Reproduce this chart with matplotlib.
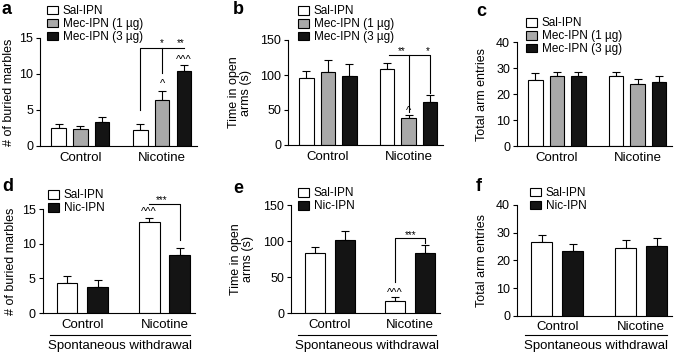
import matplotlib
matplotlib.use("Agg")
import matplotlib.pyplot as plt
import matplotlib.transforms as mtransforms
from matplotlib.patches import Patch
import numpy as np

plt.rcParams['font.family'] = ['Liberation Sans', 'DejaVu Sans']
plt.rcParams['axes.linewidth'] = 0.8

W, H = 685, 354

# ---- data ----
groups = ['Control', 'Nicotine']
mec_labels = ['Sal-IPN', 'Mec-IPN (1 µg)', 'Mec-IPN (3 µg)']
nic_labels = ['Sal-IPN', 'Nic-IPN']

a_vals = [[2.5, 2.3, 3.3], [2.2, 6.4, 10.4]]
a_err = [[0.6, 0.5, 0.7], [0.85, 1.3, 0.85]]
b_vals = [[96, 104, 99], [109, 39, 62]]
b_err = [[10, 18, 17], [8, 4, 10]]
c_vals = [[25.4, 27.2, 27.2], [27.1, 24.0, 24.7]]
c_err = [[3.0, 1.3, 1.3], [1.5, 2.0, 2.3]]
d_vals = [[4.4, 3.8], [13.2, 8.4]]
d_err = [[0.9, 1.0], [0.6, 1.0]]
e_vals = [[84, 102], [17.5, 83]]
e_err = [[8.5, 12.5], [4.5, 11.5]]
f_vals = [[26.6, 23.4], [24.6, 25.3]]
f_err = [[2.7, 2.4], [2.6, 2.8]]

marbles = '# of buried marbles'
openarms = 'Time in open\narms (s)'
entries = 'Total arm entries'

colors3 = ['white', '#a9a9a9', '#141414']
colors2 = ['white', '#141414']

fig = plt.figure(figsize=(W / 100, H / 100), dpi=100)


def add_ax(l, r, t, b):
    return fig.add_axes([l / W, 1 - b / H, (r - l) / W, (b - t) / H])


def bars(ax, vals, errs, colors, centers, offsets, width, xmax, ymax, step):
    xs = []
    for gi, c in enumerate(centers):
        for k, off in enumerate(offsets):
            x = c + off
            v, e = vals[gi][k], errs[gi][k]
            ax.bar(x, v, width, color=colors[k], edgecolor='black', lw=0.8, zorder=2)
            ax.errorbar(x, v, yerr=[[0], [e]], fmt='none', ecolor='black',
                        elinewidth=0.8, capsize=3, capthick=0.8, zorder=1)
            xs.append(x)
    ax.set_xlim(0, xmax)
    ax.set_ylim(0, ymax)
    ax.set_yticks(np.arange(0, ymax + step / 2, step))
    ax.set_xticks(centers)
    ax.set_xticklabels(groups, fontsize=9.5)
    ax.tick_params(axis='x', length=0, pad=4)
    ax.tick_params(axis='y', length=3, width=0.8, labelsize=9, pad=2)
    for s in ['top', 'right']:
        ax.spines[s].set_visible(False)
    return xs


def legend(ax, labels, colors, x, y):
    handles = [Patch(facecolor=c, edgecolor='black', lw=0.8) for c in colors]
    ax.legend(handles, labels, loc='upper left', bbox_to_anchor=(x / W, 1 - y / H),
              bbox_transform=fig.transFigure, frameon=False, fontsize=8.5,
              handlelength=0.95, handleheight=0.72, handletextpad=0.4,
              labelspacing=0.08, borderpad=0, borderaxespad=0)


def line(ax, xs, ys):
    ax.plot(xs, ys, color='black', lw=0.8, clip_on=False, zorder=3)


def mark(ax, x, y, s, size=7):
    ax.text(x, y, s, ha='center', va='center', fontsize=size, clip_on=False)


def withdrawal(ax):
    # group line + caption under the x labels, placed in figure pixels
    tr = mtransforms.blended_transform_factory(ax.transData, fig.transFigure)
    ax.plot([0.25, 4.85], [1 - 335 / H, 1 - 335 / H], color='black', lw=0.8,
            transform=tr, clip_on=False)
    ax.text(2.55, 1 - 348.5 / H, 'Spontaneous withdrawal', transform=tr,
            ha='center', va='baseline', fontsize=9.5)


c3 = [1.85, 5.6]
o3 = [-1, 0, 1]
c2 = [1.3, 4.0]
o2 = [-0.5, 0.5]

# a
ax = add_ax(40, 197, 38, 146)
xa = bars(ax, a_vals, a_err, colors3, c3, o3, 0.67, 7.2, 15, 5)
legend(ax, mec_labels, colors3, 47, 5)
ax.set_ylabel(marbles, fontsize=9)
ax.yaxis.set_label_coords(-0.16, 0.5)
line(ax, [xa[3], xa[3], xa[5]], [5.0, 13.6, 13.6])
line(ax, [xa[4], xa[4]], [13.6, 10.1])
mark(ax, xa[4], 14.3, '*')
mark(ax, xa[5] - 0.15, 14.3, '**')
mark(ax, xa[4], 8.6, '^', 8)
mark(ax, xa[5], 11.9, '^^^', 8)

# b
ax = add_ax(288, 443, 40, 145)
xb = bars(ax, b_vals, b_err, colors3, c3, o3, 0.67, 7.2, 150, 50)
legend(ax, mec_labels, colors3, 298, 5.5)
ax.set_ylabel(openarms, fontsize=9, linespacing=1.0)
ax.yaxis.set_label_coords(-0.23, 0.5)
line(ax, [xb[3] + 0.1, xb[5], xb[5]], [128.6, 128.6, 74])
line(ax, [xb[4], xb[4]], [128.6, 47.6])
mark(ax, xb[4] - 0.3, 134, '**')
mark(ax, xb[5] - 0.1, 134, '*')
mark(ax, xb[4], 49, '^', 8)

# c
ax = add_ax(517, 672, 42.5, 146.5)
bars(ax, c_vals, c_err, colors3, c3, o3, 0.67, 7.2, 40, 10)
legend(ax, mec_labels, colors3, 526, 17.5)
ax.set_ylabel(entries, fontsize=9)
ax.yaxis.set_label_coords(-0.187, 0.5)

# d
ax = add_ax(42.7, 195, 209.3, 313)
xd = bars(ax, d_vals, d_err, colors2, c2, o2, 0.68, 5.0, 15, 5)
legend(ax, nic_labels, colors2, 48, 189.5)
ax.set_ylabel(marbles, fontsize=9)
ax.yaxis.set_label_coords(-0.17, 0.5)
line(ax, [xd[2], xd[3], xd[3]], [15.7, 15.7, 10.6])
mark(ax, (xd[2] + xd[3]) / 2 - 0.1, 16.3, '***')
mark(ax, xd[2], 14.6, '^^^', 8)
withdrawal(ax)

# e
ax = add_ax(291, 440, 205, 313.3)
xe = bars(ax, e_vals, e_err, colors2, c2, o2, 0.68, 5.0, 150, 50)
legend(ax, nic_labels, colors2, 298, 187.5)
ax.set_ylabel(openarms, fontsize=9, linespacing=1.0)
ax.yaxis.set_label_coords(-0.245, 0.5)
line(ax, [xe[2], xe[2], xe[3], xe[3]], [44, 104.6, 104.6, 97])
mark(ax, (xe[2] + xe[3]) / 2, 109, '***')
mark(ax, xe[2], 28, '^^^', 8)
withdrawal(ax)

# f
ax = add_ax(517, 672, 205, 315.7)
bars(ax, f_vals, f_err, colors2, c2, o2, 0.68, 5.0, 40, 10)
legend(ax, nic_labels, colors2, 530, 187)
ax.set_ylabel(entries, fontsize=9)
ax.yaxis.set_label_coords(-0.187, 0.5)
withdrawal(ax)

for s, x, y in [('a', 2, 1), ('b', 233, 1), ('c', 476, 3), ('d', 2, 178), ('e', 233, 180), ('f', 476, 178)]:
    fig.text(x / W, 1 - y / H, s, fontsize=13, fontweight='bold', ha='left', va='top')

fig.savefig('out.png', dpi=100)
